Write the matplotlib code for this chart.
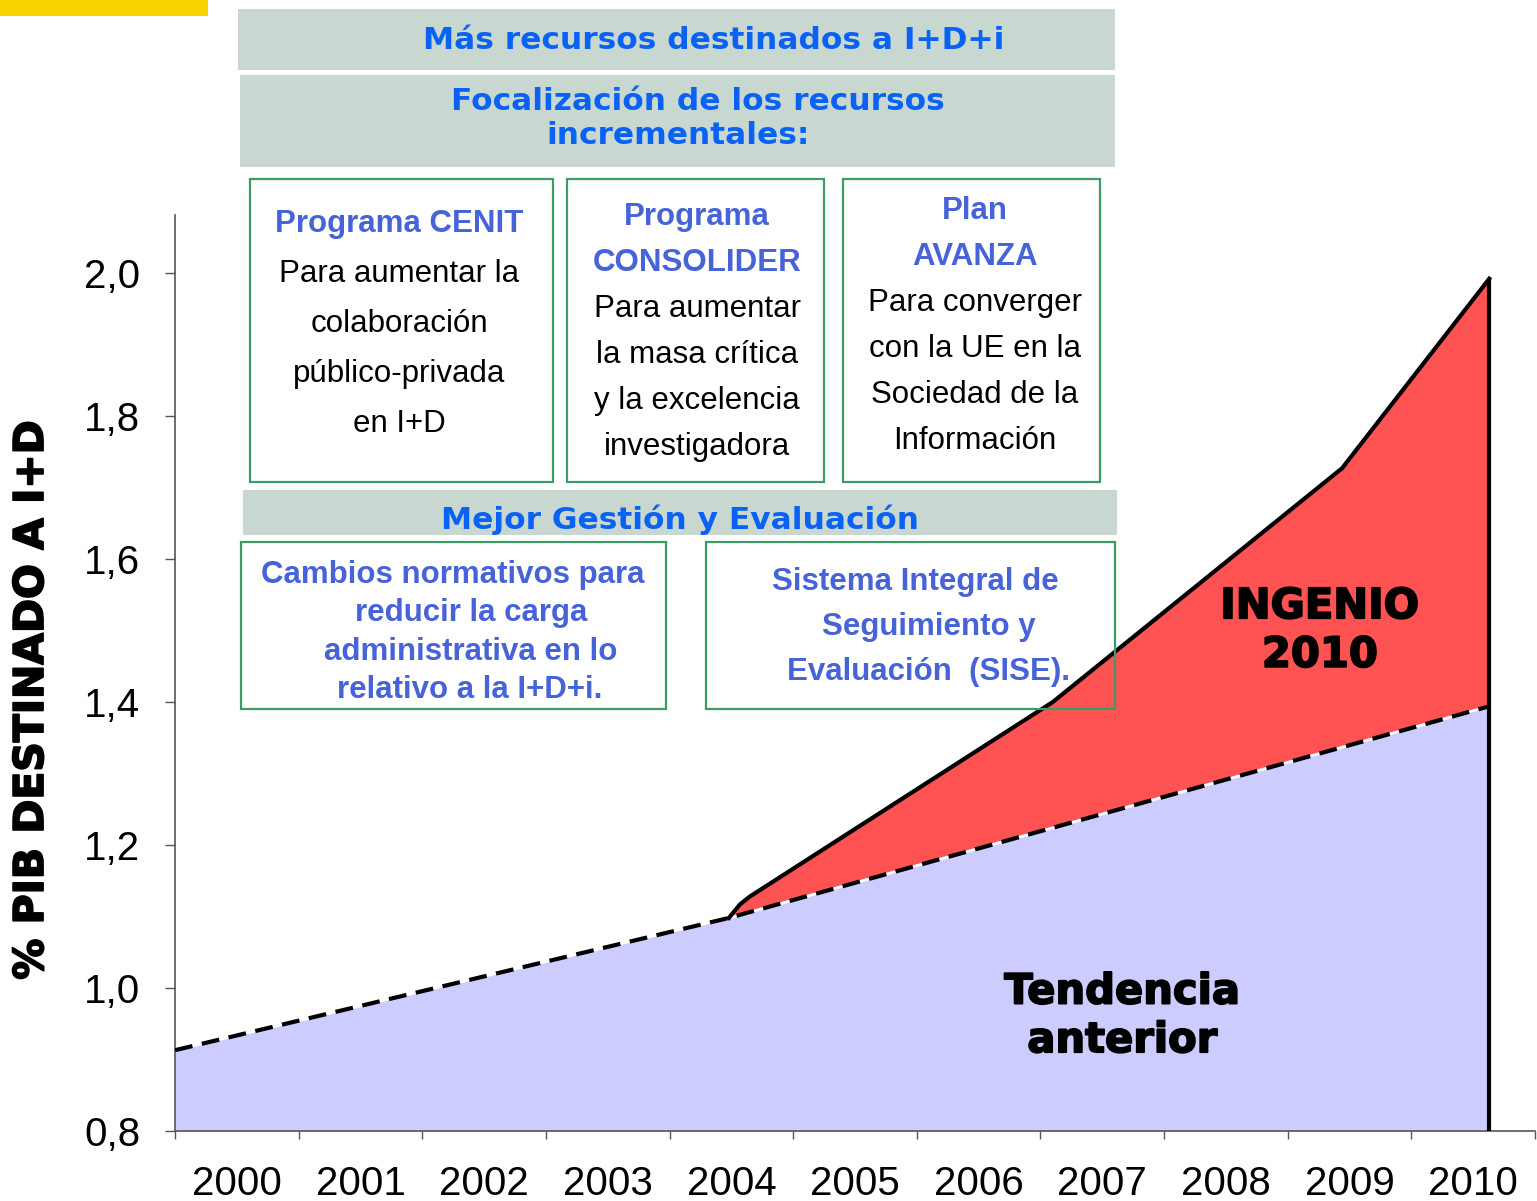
import numpy as np
import matplotlib
matplotlib.use("Agg")
import matplotlib.pyplot as plt
import matplotlib.patheffects as pe
from matplotlib.patches import Rectangle

plt.rcParams['font.family'] = ['Liberation Sans', 'DejaVu Sans']

W, H = 1537, 1201

# data (x in years, y in % of GDP)
years = list(range(2000, 2011))
trend_x = [1999.5, 2003.98, 2010.13]
trend_y = [0.913, 1.098, 1.394]
ingenio_x = [2003.98, 2004.07, 2004.15, 2006.6, 2008.94, 2010.13]
ingenio_y = [1.098, 1.117, 1.128, 1.40, 1.727, 1.992]
yticks = [0.8, 1.0, 1.2, 1.4, 1.6, 1.8, 2.0]
ytick_labels = ["0,8", "1,0", "1,2", "1,4", "1,6", "1,8", "2,0"]

LAVENDER = '#CCCCFF'
RED = '#FF5252'
BAND = '#C8D7CF'
HEAD_BLUE = '#0A62F5'
BOX_BLUE = '#4763D8'
GREEN = '#3C9C68'

# heavy text (the original uses a black-weight face)
heavy = [pe.withStroke(linewidth=1.3, foreground='black')]

fig = plt.figure(figsize=(W / 100, H / 100), dpi=100)
ax = fig.add_axes([175 / W, 1 - 1131 / H, (1535 - 175) / W, (1131 - 215) / H])
ax.set_xlim(1999.5, 1999.5 + (1535 - 175) / 124)
ax.set_ylim(0.8, 0.8 + (1131 - 215) / 715)

# areas
ax.fill_between(trend_x, 0.8, trend_y, color=LAVENDER, lw=0, zorder=1)
base = np.interp(ingenio_x, trend_x, trend_y)
ax.fill_between(ingenio_x, base, ingenio_y, color=RED, lw=0, zorder=1)

# lines
ax.plot(trend_x, trend_y, color='white', lw=2, zorder=3)
ax.plot(trend_x, trend_y, color='black', lw=3, dashes=(4.3, 2.3), zorder=4)
ax.plot(ingenio_x, ingenio_y, color='black', lw=3, solid_joinstyle='round', zorder=4)
ax.vlines(trend_x[-1], 0.8, ingenio_y[-1], color='black', lw=3, zorder=4)

# axes styling
for s in ['top', 'right']:
    ax.spines[s].set_visible(False)
for s in ['left', 'bottom']:
    ax.spines[s].set_color('#555555')
    ax.spines[s].set_linewidth(1.2)
ax.set_yticks(yticks)
ax.set_yticklabels(ytick_labels)
ax.tick_params(axis='y', length=7, width=1, color='#555555', pad=18, labelsize=29)
ax.set_xticks(np.arange(1999.5, 2010.6, 1))
ax.set_xticklabels([])
ax.set_xticks(years, minor=True)
ax.set_xticklabels([str(y) for y in years], minor=True)
ax.tick_params(axis='x', which='major', length=6, width=1, color='#555555')
ax.tick_params(axis='x', which='minor', length=0, pad=24.5, labelsize=29)

ax.text(2008.76, 1.50, "INGENIO\n2010", ha='center', va='center', fontsize=30,
        fontweight='bold', family='DejaVu Sans', linespacing=1.2, zorder=5,
        path_effects=heavy)
ax.text(2007.16, 0.961, "Tendencia\nanterior", ha='center', va='center', fontsize=30,
        fontweight='bold', family='DejaVu Sans', linespacing=1.2, zorder=5,
        path_effects=heavy)

fig.text(32 / W, 1 - 700 / H, "% PIB DESTINADO A I+D", rotation=90, ha='center',
         va='center', fontsize=29.5, fontweight='bold', family='DejaVu Sans',
         path_effects=heavy)


def rect(x0, y0, x1, y1, **kw):
    fig.patches.append(Rectangle((x0 / W, 1 - y1 / H), (x1 - x0) / W, (y1 - y0) / H,
                                 transform=fig.transFigure, **kw))


def label(x, y, s, size, **kw):
    # y is the visual centre of the line, place baseline half a cap height below
    fig.text(x / W, 1 - (y + size * 0.5) / H, s, ha='center', va='baseline',
             fontsize=size, zorder=10, **kw)


# yellow tab top-left
rect(0, 0, 208, 16, color='#F9D300', lw=0)

# header bands
rect(238, 9, 1115, 70, color=BAND, lw=0)
rect(240, 75, 1115, 167, color=BAND, lw=0)
rect(243, 490, 1117, 535, color=BAND, lw=0)
hd = dict(color=HEAD_BLUE, fontweight='bold', family='DejaVu Sans')
label(714, 38, "Más recursos destinados a I+D+i", 22.5, **hd)
label(698, 99, "Focalización de los recursos", 22.5, **hd)
label(678, 133, "incrementales:", 22.5, **hd)
label(680, 518, "Mejor Gestión y Evaluación", 22.5, **hd)

# program boxes
for x0, x1 in [(250, 553), (567, 824), (843, 1100)]:
    rect(x0, 179, x1, 482, fill=False, ec=GREEN, lw=1.6)
rect(241, 542, 666, 709, fill=False, ec=GREEN, lw=1.6)
rect(706, 542, 1115, 709, fill=False, ec=GREEN, lw=1.6)

tb = dict(color=BOX_BLUE, fontweight='bold')
body = dict(color='black')
SZ = 22.5

label(399, 221, "Programa CENIT", SZ, **tb)
for i, s in enumerate(["Para aumentar la", "colaboración", "público-privada", "en I+D"]):
    label(399, 271 + 50 * i, s, SZ, **body)

label(697, 214, "Programa", SZ, **tb)
label(697, 260, "CONSOLIDER", SZ, **tb)
for i, s in enumerate(["Para aumentar", "la masa crítica", "y la excelencia", "investigadora"]):
    label(697, 306 + 46 * i, s, SZ, **body)

label(975, 208, "Plan", SZ, **tb)
label(975, 254, "AVANZA", SZ, **tb)
for i, s in enumerate(["Para converger", "con la UE en la", "Sociedad de la", "Información"]):
    label(975, 300 + 46 * i, s, SZ, **body)

label(453, 572, "Cambios normativos para", SZ, **tb)
label(471, 610, "reducir la carga", SZ, **tb)
label(471, 649, "administrativa en lo", SZ, **tb)
label(470, 687, "relativo a la I+D+i.", SZ, **tb)

label(915, 579, "Sistema Integral de", SZ, **tb)
label(929, 624, "Seguimiento y", SZ, **tb)
label(929, 669, "Evaluación  (SISE).", SZ, **tb)

fig.savefig("out.png", dpi=100)
